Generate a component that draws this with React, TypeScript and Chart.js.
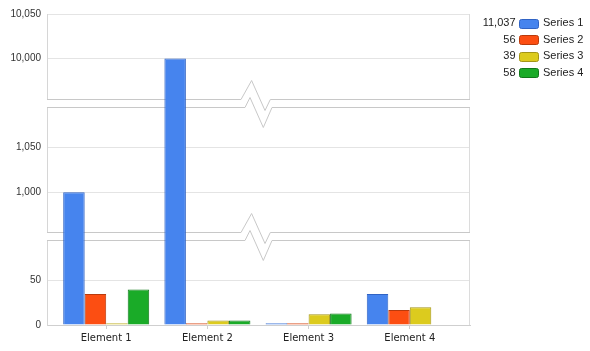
import React, { useEffect, useRef } from 'react';
import { Chart, registerables, LinearScale } from 'chart.js';

Chart.register(...registerables);

const CATEGORIES = ['Element 1', 'Element 2', 'Element 3', 'Element 4'];
const SERIES_NAMES = ['Series 1', 'Series 2', 'Series 3', 'Series 4'];
const SERIES_1 = [1000, 10000, 2, 35];
const SERIES_2 = [35, 2, 2, 17];
const SERIES_3 = [2, 5, 12, 20];
const SERIES_4 = [40, 5, 13, 0];
const SERIES_VALUES = [SERIES_1, SERIES_2, SERIES_3, SERIES_4];
const Y_TICKS = [0, 50, 1000, 1050, 10000, 10050];
const Y_SEGMENTS: number[][] = [
  [0, 95.5],
  [954, 1095.5],
  [9953, 10050],
];

const FILLS = ['#4684ee', '#fc4e12', '#dccb1e', '#1aab28'];
const BORDERS = ['#3063c4', '#b93a0c', '#a39517', '#11781a'];
const GAP_PX = 7;

class BrokenScale extends LinearScale {
  static id = 'brokenLinear';
  static defaults = {};
  _k(): number {
    const total = Y_SEGMENTS.reduce((s, [a, b]) => s + (b - a), 0);
    const len = (this as any).bottom - (this as any).top;
    return (len - GAP_PX * (Y_SEGMENTS.length - 1)) / total;
  }
  getPixelForValue(value: number): number {
    if (value === null || value === undefined || isNaN(value)) return NaN;
    const k = this._k();
    let y = (this as any).bottom;
    for (let i = 0; i < Y_SEGMENTS.length; i++) {
      const [a, b] = Y_SEGMENTS[i];
      if (value <= b || i === Y_SEGMENTS.length - 1) {
        const v = Math.max(value, a);
        return y - (v - a) * k;
      }
      y -= (b - a) * k + GAP_PX;
    }
    return NaN;
  }
  getValueForPixel(pixel: number): number {
    const k = this._k();
    let y = (this as any).bottom;
    for (let i = 0; i < Y_SEGMENTS.length; i++) {
      const [a, b] = Y_SEGMENTS[i];
      const top = y - (b - a) * k;
      if (pixel >= top || i === Y_SEGMENTS.length - 1) {
        return a + (y - pixel) / k;
      }
      y = top - GAP_PX;
    }
    return NaN;
  }
}
Chart.register(BrokenScale as any);

const LINE = '#c8c8c8';

const breaksPlugin = {
  id: 'breaks',
  beforeDatasetsDraw(chart: any) {
    const { ctx, chartArea } = chart;
    const ys = chart.scales.y;
    const { left, right, top, bottom } = chartArea;
    ctx.save();
    // right border
    ctx.strokeStyle = '#dcdcdc';
    ctx.lineWidth = 1;
    ctx.beginPath();
    ctx.moveTo(Math.round(right) - 0.5, top);
    ctx.lineTo(Math.round(right) - 0.5, bottom);
    ctx.stroke();
    const zx = left + 194;
    for (let i = 0; i < Y_SEGMENTS.length - 1; i++) {
      const y1 = Math.round(ys.getPixelForValue(Y_SEGMENTS[i][1])) + 0.5;
      const y0 = Math.round(ys.getPixelForValue(Y_SEGMENTS[i + 1][0])) - 0.5;
      const upper: number[][] = [
        [left - 1, y0],
        [zx, y0],
        [zx + 10.6, y0 - 19],
        [zx + 24, y0 + 11],
        [zx + 29.3, y0],
        [right, y0],
      ];
      const lower: number[][] = [
        [left - 1, y1],
        [zx + 4, y1],
        [zx + 9, y1 - 10],
        [zx + 22.3, y1 + 20],
        [zx + 31, y1],
        [right, y1],
      ];
      ctx.fillStyle = '#ffffff';
      ctx.beginPath();
      upper.forEach(([x, y], j) => (j === 0 ? ctx.moveTo(x, y) : ctx.lineTo(x, y)));
      [...lower].reverse().forEach(([x, y]) => ctx.lineTo(x, y));
      ctx.closePath();
      ctx.fill();
      ctx.fillRect(left - 1, y0, right - left + 2, y1 - y0);
      ctx.strokeStyle = LINE;
      ctx.lineWidth = 1;
      for (const pts of [upper, lower]) {
        ctx.beginPath();
        pts.forEach(([x, y], j) => (j === 0 ? ctx.moveTo(x + 1, y) : ctx.lineTo(x, y)));
        ctx.stroke();
      }
    }
    ctx.restore();
  },
  afterDraw(chart: any) {
    const { ctx } = chart;
    ctx.save();
    ctx.font = "11px 'Liberation Sans', Arial, sans-serif";
    ctx.textBaseline = 'middle';
    const rowY = [23, 39.5, 56, 72.5];
    SERIES_VALUES.forEach((vals, i) => {
      const total = vals.reduce((s, v) => s + v, 0);
      const y = rowY[i];
      ctx.fillStyle = '#222';
      ctx.textAlign = 'right';
      ctx.fillText(total.toLocaleString('en-US'), 515.5, y);
      ctx.textAlign = 'left';
      ctx.fillText(SERIES_NAMES[i], 543, y);
      ctx.fillStyle = FILLS[i];
      ctx.strokeStyle = BORDERS[i];
      ctx.lineWidth = 1;
      ctx.beginPath();
      (ctx as any).roundRect(519.5, Math.round(y - 4.5) + 0.5, 19, 9, 2);
      ctx.fill();
      ctx.stroke();
    });
    ctx.restore();
  },
};

export default function App() {
  const ref = useRef<HTMLCanvasElement>(null);
  useEffect(() => {
    const chart = new Chart(ref.current as HTMLCanvasElement, {
      type: 'bar',
      data: {
        datasets: SERIES_VALUES.map((vals, i) => ({
          label: SERIES_NAMES[i],
          data: vals.map((v, j) => ({ x: j, y: v })),
          backgroundColor: FILLS[i],
          borderColor: BORDERS[i],
          borderWidth: 1,
          categoryPercentage: 0.85,
          barPercentage: 1,
        })),
      },
      options: {
        responsive: false,
        animation: false,
        devicePixelRatio: 1,
        events: [],
        layout: { padding: { top: 14, right: 120, left: 0, bottom: 0 } },
        plugins: { legend: { display: false }, tooltip: { enabled: false } },
        scales: {
          x: {
            type: 'linear',
            offset: false,
            min: -0.585,
            max: 3.595,
            afterBuildTicks: (s: any) => {
              s.ticks = CATEGORIES.map((_, i) => ({ value: i }));
            },
            afterFit: (s: any) => {
              s.height = 26;
            },
            ticks: {
              callback: (v: any) => CATEGORIES[Number(v)] ?? '',
              font: { family: "'DejaVu Sans', Verdana, sans-serif", size: 10 },
              color: '#222',
              padding: 3,
              maxRotation: 0,
              autoSkip: false,
            },
            grid: { offset: false, drawOnChartArea: false, drawTicks: true, tickLength: 4, color: '#cfcfcf' },
            border: { color: '#cfcfcf' },
          },
          y: {
            type: 'brokenLinear' as any,
            min: 0,
            max: 10050,
            afterBuildTicks: (s: any) => {
              s.ticks = Y_TICKS.map((v) => ({ value: v }));
            },
            afterFit: (s: any) => {
              s.width = 47;
            },
            ticks: {
              callback: (v: any) => Number(v).toLocaleString('en-US'),
              font: { family: "'Liberation Sans', Arial, sans-serif", size: 10 },
              color: '#333',
              padding: 6,
              autoSkip: false,
            },
            grid: { color: '#e4e4e4', drawTicks: false },
            border: { color: '#d6d6d6' },
          } as any,
        },
      },
      plugins: [breaksPlugin],
    } as any);
    return () => chart.destroy();
  }, []);
  return (
    <div style={{ position: 'fixed', left: 0, top: 0, width: 590, height: 351, background: '#fff' }}>
      <canvas ref={ref} width={590} height={351} style={{ display: 'block' }} />
    </div>
  );
}
